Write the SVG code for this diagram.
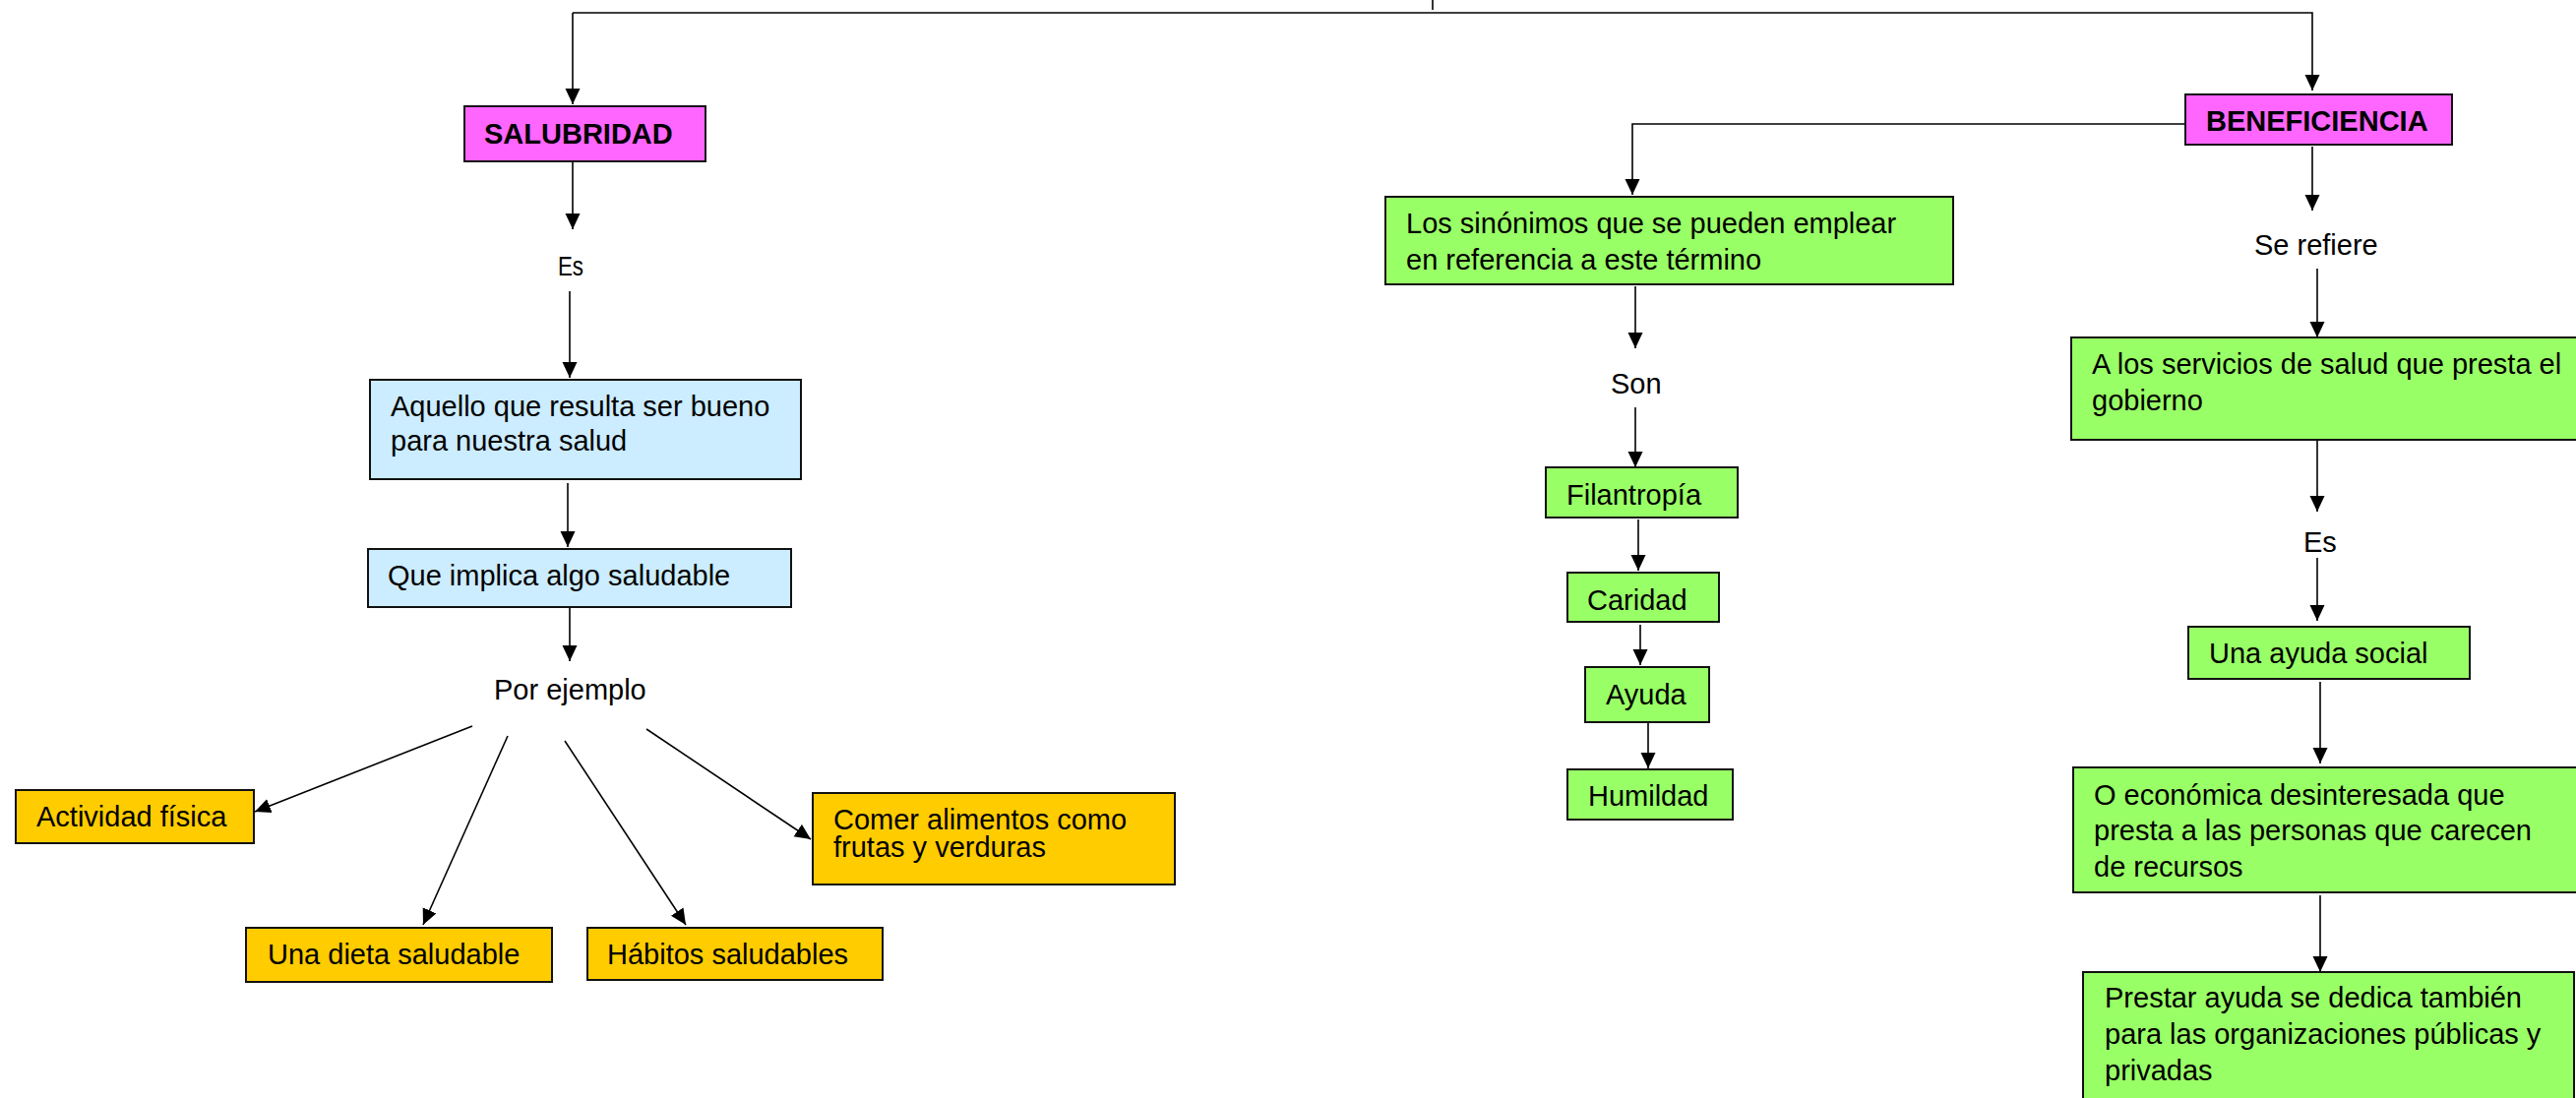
<svg xmlns="http://www.w3.org/2000/svg" width="2618" height="1116" viewBox="0 0 2618 1116">
<style>
.box{stroke:#111;stroke-width:2}
.pink{fill:#FF66FF}
.blue{fill:#CCECFF}
.yel{fill:#FFCC00}
.grn{fill:#99FF66}
text{font-family:"Liberation Sans",Arial,sans-serif;font-size:29px;fill:#000}
.b{font-weight:bold}
.es{font-size:28px}
.c{stroke:#000;stroke-width:1.6;fill:none}
</style>
<defs>
<marker id="ah" markerUnits="userSpaceOnUse" markerWidth="16" markerHeight="16" viewBox="0 0 16 16" refX="16" refY="8" orient="auto">
<path d="M0,0.5 L16,8 L0,15.5 z" fill="#000"/>
</marker>
</defs>
<rect width="2618" height="1116" fill="#fff"/>

<g id="connectors">
<line class="c" x1="1456" y1="0" x2="1456" y2="10"/>
<path class="c" d="M582,13 H2350 V92" marker-end="url(#ah)"/>
<path class="c" d="M582,13 V106" marker-end="url(#ah)"/>
<line class="c" x1="582" y1="165" x2="582" y2="233" marker-end="url(#ah)"/>
<line class="c" x1="579" y1="296" x2="579" y2="384" marker-end="url(#ah)"/>
<line class="c" x1="577" y1="491" x2="577" y2="556" marker-end="url(#ah)"/>
<line class="c" x1="579" y1="618" x2="579" y2="672" marker-end="url(#ah)"/>
<line class="c" x1="480" y1="738" x2="259" y2="825" marker-end="url(#ah)"/>
<line class="c" x1="516" y1="748" x2="430" y2="940" marker-end="url(#ah)"/>
<line class="c" x1="574" y1="753" x2="697" y2="940" marker-end="url(#ah)"/>
<line class="c" x1="657" y1="741" x2="824" y2="853" marker-end="url(#ah)"/>
<path class="c" d="M2220,126 H1659 V198" marker-end="url(#ah)"/>
<line class="c" x1="1662" y1="291" x2="1662" y2="354" marker-end="url(#ah)"/>
<line class="c" x1="1662" y1="414" x2="1662" y2="475" marker-end="url(#ah)"/>
<line class="c" x1="1665" y1="528" x2="1665" y2="580" marker-end="url(#ah)"/>
<line class="c" x1="1667" y1="635" x2="1667" y2="676" marker-end="url(#ah)"/>
<line class="c" x1="1675" y1="733" x2="1675" y2="781" marker-end="url(#ah)"/>
<line class="c" x1="2350" y1="149" x2="2350" y2="214" marker-end="url(#ah)"/>
<line class="c" x1="2355" y1="273" x2="2355" y2="343" marker-end="url(#ah)"/>
<line class="c" x1="2355" y1="448" x2="2355" y2="520" marker-end="url(#ah)"/>
<line class="c" x1="2355" y1="567" x2="2355" y2="631" marker-end="url(#ah)"/>
<line class="c" x1="2358" y1="693" x2="2358" y2="776" marker-end="url(#ah)"/>
<line class="c" x1="2358" y1="910" x2="2358" y2="988" marker-end="url(#ah)"/>
</g>

<g id="salubridad">
<rect class="box pink" x="472" y="108" width="245" height="56"/>
<text class="b" x="492" y="146">SALUBRIDAD</text>
</g>
<g id="label-es-1"><text class="es" x="567" y="280" textLength="26" lengthAdjust="spacingAndGlyphs">Es</text></g>
<g id="aquello">
<rect class="box blue" x="376" y="386" width="438" height="101"/>
<text x="397" y="423">Aquello que resulta ser bueno</text>
<text x="397" y="458">para nuestra salud</text>
</g>
<g id="que-implica">
<rect class="box blue" x="374" y="558" width="430" height="59"/>
<text x="394" y="595">Que implica algo saludable</text>
</g>
<g id="label-por-ejemplo"><text x="502" y="711">Por ejemplo</text></g>
<g id="actividad">
<rect class="box yel" x="16" y="803" width="242" height="54"/>
<text x="37" y="840">Actividad física</text>
</g>
<g id="dieta">
<rect class="box yel" x="250" y="943" width="311" height="55"/>
<text x="272" y="980">Una dieta saludable</text>
</g>
<g id="habitos">
<rect class="box yel" x="597" y="943" width="300" height="53"/>
<text x="617" y="980">Hábitos saludables</text>
</g>
<g id="comer">
<rect class="box yel" x="826" y="806" width="368" height="93"/>
<text x="847" y="843">Comer alimentos como</text>
<text x="847" y="871">frutas y verduras</text>
</g>

<g id="beneficiencia">
<rect class="box pink" x="2221" y="96" width="271" height="51"/>
<text class="b" x="2242" y="133">BENEFICIENCIA</text>
</g>
<g id="sinonimos">
<rect class="box grn" x="1408" y="200" width="577" height="89"/>
<text x="1429" y="237">Los sinónimos que se pueden emplear</text>
<text x="1429" y="274">en referencia a este término</text>
</g>
<g id="label-son"><text x="1637" y="400">Son</text></g>
<g id="filantropia">
<rect class="box grn" x="1571" y="475" width="195" height="51"/>
<text x="1592" y="513">Filantropía</text>
</g>
<g id="caridad">
<rect class="box grn" x="1593" y="582" width="154" height="50"/>
<text x="1613" y="620">Caridad</text>
</g>
<g id="ayuda">
<rect class="box grn" x="1611" y="678" width="126" height="56"/>
<text x="1632" y="716">Ayuda</text>
</g>
<g id="humildad">
<rect class="box grn" x="1593" y="782" width="168" height="51"/>
<text x="1614" y="819">Humildad</text>
</g>
<g id="label-se-refiere"><text x="2291" y="259">Se refiere</text></g>
<g id="servicios">
<rect class="box grn" x="2105" y="343" width="530" height="104"/>
<text x="2126" y="380">A los servicios de salud que presta el</text>
<text x="2126" y="417">gobierno</text>
</g>
<g id="label-es-2"><text x="2341" y="561">Es</text></g>
<g id="ayuda-social">
<rect class="box grn" x="2224" y="637" width="286" height="53"/>
<text x="2245" y="674">Una ayuda social</text>
</g>
<g id="economica">
<rect class="box grn" x="2107" y="780" width="530" height="127"/>
<text x="2128" y="818">O económica desinteresada que</text>
<text x="2128" y="854">presta a las personas que carecen</text>
<text x="2128" y="891">de recursos</text>
</g>
<g id="prestar">
<rect class="box grn" x="2117" y="988" width="499" height="140"/>
<text x="2139" y="1024">Prestar ayuda se dedica también</text>
<text x="2139" y="1061">para las organizaciones públicas y</text>
<text x="2139" y="1098">privadas</text>
</g>
</svg>
